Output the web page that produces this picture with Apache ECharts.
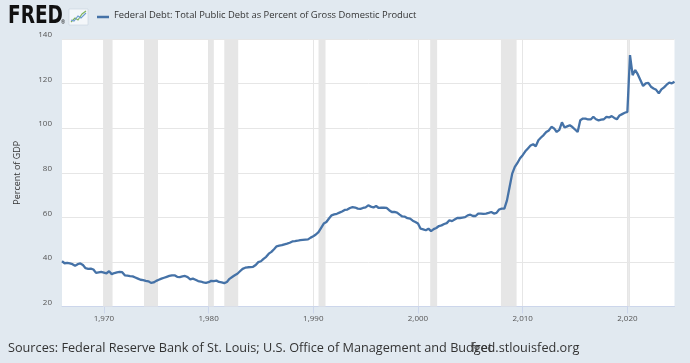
<!DOCTYPE html>
<html>
<head>
<meta charset="utf-8">
<script src="https://cdn.jsdelivr.net/npm/echarts@6/dist/echarts.min.js"></script>
<style>html,body{margin:0;padding:0;background:#e1e9f0;}#c{width:690px;height:363px;}</style>
</head>
<body>
<div id="c"></div>
<script>
// Quarterly values, percent of GDP, starting 1966 Q1 (one row per year)
const startYear = 1966;
const debtPct = [
  [40.3, 39.4, 39.6, 39.3], // 1966
  [39.0, 38.3, 39.0, 39.3], // 1967
  [38.6, 37.2, 36.9, 37.0], // 1968
  [36.6, 35.1, 35.3, 35.5], // 1969
  [35.2, 34.9, 35.8, 34.5], // 1970
  [35.0, 35.3, 35.5, 35.4], // 1971
  [34.0, 33.8, 33.6, 33.5], // 1972
  [33.0, 32.5, 32.0, 31.8], // 1973
  [31.5, 31.3, 30.6, 30.8], // 1974
  [31.5, 32.0, 32.5, 32.9], // 1975
  [33.3, 33.7, 34.0, 34.0], // 1976
  [33.3, 33.2, 33.5, 33.7], // 1977
  [33.2, 32.2, 32.5, 32.0], // 1978
  [31.4, 31.2, 30.8, 30.6], // 1979
  [30.9, 31.5, 31.4, 31.6], // 1980
  [31.0, 30.8, 30.5, 31.0], // 1981
  [32.4, 33.2, 34.0, 34.7], // 1982
  [35.8, 36.9, 37.4, 37.6], // 1983
  [37.7, 37.8, 38.6, 39.9], // 1984
  [40.3, 41.4, 42.3, 43.7], // 1985
  [44.5, 45.7, 47.0, 47.3], // 1986
  [47.5, 47.9, 48.2, 48.6], // 1987
  [49.2, 49.3, 49.5, 49.8], // 1988
  [49.9, 50.0, 50.1, 50.9], // 1989
  [51.5, 52.3, 53.4, 55.3], // 1990
  [57.2, 57.9, 59.5, 60.9], // 1991
  [61.3, 61.6, 62.1, 62.6], // 1992
  [63.3, 63.5, 64.2, 64.6], // 1993
  [64.4, 63.9, 63.8, 64.2], // 1994
  [64.5, 65.4, 64.8, 64.4], // 1995
  [65.1, 64.2, 64.3, 64.3], // 1996
  [64.2, 63.2, 62.4, 62.4], // 1997
  [62.1, 61.2, 60.4, 60.3], // 1998
  [59.6, 59.4, 58.5, 57.9], // 1999
  [57.2, 54.9, 54.6, 54.2], // 2000
  [54.9, 53.8, 54.7, 55.2], // 2001
  [56.1, 56.4, 57.0, 57.4], // 2002
  [58.7, 58.3, 59.0, 59.7], // 2003
  [59.7, 59.9, 60.1, 60.9], // 2004
  [61.2, 60.6, 60.6, 61.7], // 2005
  [61.7, 61.5, 61.7, 62.0], // 2006
  [62.4, 61.7, 62.0, 63.5], // 2007
  [63.9, 63.9, 67.6, 73.6], // 2008
  [79.6, 82.6, 84.4, 86.5], // 2009
  [87.9, 89.6, 90.9, 92.2], // 2010
  [92.8, 91.9, 94.6, 95.8], // 2011
  [96.9, 98.3, 99.0, 100.6], // 2012
  [99.9, 98.3, 99.2, 102.6], // 2013
  [100.3, 100.8, 101.3, 100.5], // 2014
  [99.4, 98.3, 103.6, 104.3], // 2015
  [104.3, 103.9, 103.9, 105.1], // 2016
  [104.0, 103.5, 103.8, 104.0], // 2017
  [105.1, 104.8, 105.4, 104.6], // 2018
  [104.0, 105.7, 106.3, 106.9], // 2019
  [107.3, 132.8, 123.8, 126.1], // 2020
  [124.1, 121.5, 118.9, 120.1], // 2021
  [120.3, 118.6, 117.8, 117.2], // 2022
  [115.6, 117.4, 118.3, 119.5], // 2023
  [120.4, 120.1, 120.8]         // 2024
];
// NBER recessions (start, end) in decimal years
const recessions = [
  [1969.92, 1970.83], [1973.83, 1975.17], [1980.0, 1980.5], [1981.5, 1982.83],
  [1990.5, 1991.17], [2001.17, 2001.83], [2007.92, 2009.42], [2020.08, 2020.25]
];
const xTicks = [1970, 1980, 1990, 2000, 2010, 2020];
const yTicks = [20, 40, 60, 80, 100, 120, 140];
const seriesName = 'Federal Debt: Total Public Debt as Percent of Gross Domestic Product';
const yAxisTitle = 'Percent of GDP';
const sourceText = 'Sources: Federal Reserve Bank of St. Louis; U.S. Office of Management and Budget';
const siteText = 'fred.stlouisfed.org';

const points = [];
debtPct.forEach((row, i) => row.forEach((v, q) => points.push([startYear + i + q / 4, v])));

const chart = echarts.init(document.getElementById('c'), null, {renderer: 'canvas'});
const FONT = '"Open Sans", sans-serif';
chart.setOption({
  backgroundColor: '#e1e9f0',
  animation: false,
  grid: {left: 62, right: 15.5, top: 39, bottom: 56.5, show: true, backgroundColor: '#ffffff', borderWidth: 0},
  xAxis: {
    type: 'value', min: 1966, max: 2024.5,
    axisLine: {show: true, lineStyle: {color: '#ccd6eb', width: 1}},
    axisTick: {show: true, customValues: xTicks, length: 7, lineStyle: {color: '#ccd6eb'}},
    axisLabel: {customValues: xTicks, color: '#555', fontSize: 8, fontFamily: FONT, margin: 8},
    splitLine: {show: true, lineStyle: {color: '#e6e6e6', width: 1}}
  },
  yAxis: {
    type: 'value', min: yTicks[0], max: yTicks[yTicks.length - 1], interval: 20,
    name: yAxisTitle, nameLocation: 'middle', nameGap: 40, nameRotate: 90,
    nameTextStyle: {color: '#333', fontSize: 9, fontFamily: FONT},
    axisLine: {show: false}, axisTick: {show: false},
    axisLabel: {color: '#555', fontSize: 8, fontFamily: FONT, margin: 10, verticalAlign: 'bottom'},
    splitLine: {show: true, lineStyle: {color: '#e6e6e6', width: 1}}
  },
  series: [{
    type: 'line', name: seriesName, data: points, showSymbol: false,
    lineStyle: {color: '#4572a7', width: 2.3}, itemStyle: {color: '#4572a7'},
    z: 5,
    markArea: {
      silent: true,
      itemStyle: {color: '#e6e6e6'},
      data: recessions.map(r => [{xAxis: r[0]}, {xAxis: r[1]}])
    }
  }],
  graphic: [
    {type: 'text', left: 8, top: 4, scaleX: 0.74, style: {text: 'FRED', fontSize: 25, fontWeight: 900, fontFamily: '"DejaVu Sans", sans-serif', fill: '#111'}},
    {type: 'text', left: 61, top: 20, style: {text: '®', fontSize: 5, fill: '#111', fontFamily: FONT}},
    {type: 'rect', shape: {x: 69, y: 9, width: 19, height: 16}, style: {fill: '#f4f7fa', stroke: '#c7d3df', lineWidth: 0.6}},
    {type: 'polyline', shape: {points: [[71, 22], [75, 18], [78, 20], [82, 14], [86, 11]]}, style: {stroke: '#7fb35a', lineWidth: 1.1, fill: null}},
    {type: 'polyline', shape: {points: [[71, 20], [74, 21], [78, 16], [81, 18], [86, 13]]}, style: {stroke: '#6a9bd0', lineWidth: 1.1, fill: null}},
    {type: 'line', shape: {x1: 97, y1: 17, x2: 109, y2: 17}, style: {stroke: '#4572a7', lineWidth: 2.5}},
    {type: 'text', left: 114, top: 11, style: {text: seriesName, fontSize: 9.4, fontFamily: FONT, fill: '#333'}},
    {type: 'text', left: 8, top: 342, style: {text: sourceText, fontSize: 12.7, fontFamily: FONT, fill: '#333'}},
    {type: 'text', left: 471, top: 342, style: {text: siteText, fontSize: 12.7, fontFamily: FONT, fill: '#333'}}
  ]
});
</script>
</body>
</html>
